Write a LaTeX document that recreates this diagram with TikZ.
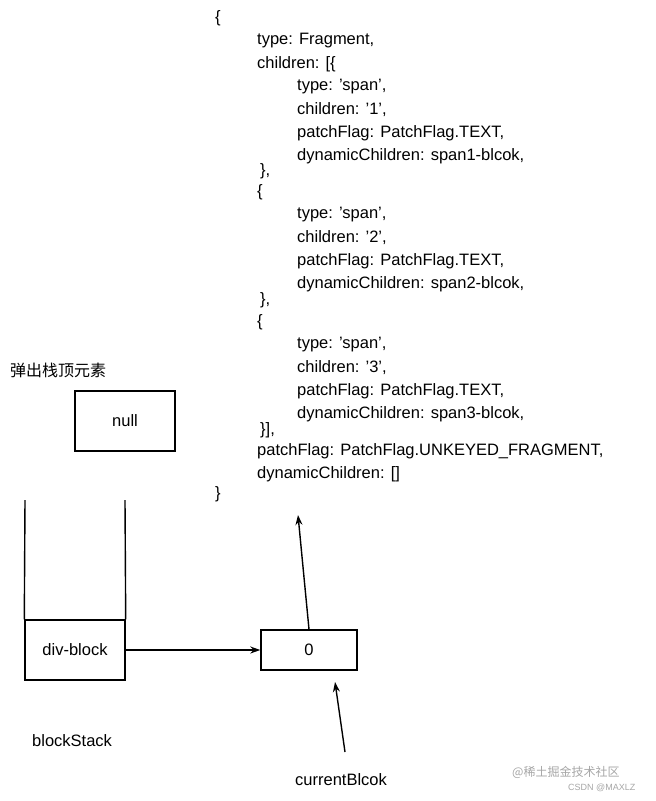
\documentclass[tikz,border=0pt]{standalone}
\usepackage{fontspec}
\setmainfont{Liberation Sans}
\newfontfamily\cjk{Noto Sans CJK SC}
\usetikzlibrary{arrows.meta}
\newcommand{\sq}{\char"0027\relax}
\begin{document}
\begin{tikzpicture}[x=1pt,y=-1pt,
  t/.style={anchor=west,inner sep=0pt,font=\fontsize{16.5}{19}\selectfont},
  box/.style={draw,line width=1.4pt,minimum height=#1,inner sep=0pt,font=\fontsize{16.5}{19}\selectfont},
  ln/.style={line width=1.4pt},
  ar/.style={line width=1.4pt,-{Stealth[length=10pt,width=7pt]}}]
\useasboundingbox (0,0) rectangle (656,801);
\node[t] (a0) at (215,18) {\{};
\node[t] (a1) at (257,41) {type: Fragment,};
\node[t] (a2) at (257,64) {children: [\{};
\foreach \n/\y/\k in {1/87/b,2/215/c,3/345/d}{
  \node[t] (\k1) at (297,\y) {type: \sq span\sq,};
  \node[t] (\k2) at (297,\y+23) {children: \sq\n\sq,};
  \node[t] (\k3) at (297,\y+46) {patchFlag: PatchFlag.TEXT,};
  \node[t] (\k4) at (297,\y+69) {dynamicChildren: span\n-blcok,};
}
\node[t] (e1) at (260,171) {\},};
\node[t] (e2) at (257,192) {\{};
\node[t] (e3) at (260,300) {\},};
\node[t] (e4) at (257,322) {\{};
\node[t] (e5) at (260,430) {\}],};
\node[t] (e6) at (257,451) {patchFlag: PatchFlag.UNKEYED\_FRAGMENT,};
\node[t] (e7) at (257,474) {dynamicChildren: []};
\node[t] (e8) at (215,494) {\}};
\node[t,font=\cjk\fontsize{16}{18}\selectfont] (tt) at (10,370) {弹出栈顶元素};
\node[box=60pt,minimum width=100pt] (null) at (125,421) {null};
\node[box=60pt,minimum width=100pt] (div) at (75,650) {div-block};
\draw[ln] (25,500) -- (div.north west);
\draw[ln] (125,500) -- (div.north east);
\node[t] (bs) at (32,741) {blockStack};
\node[box=40pt,minimum width=96pt] (zero) at (309,650) {0};
\node[t] (cb) at (295,780) {currentBlcok};
\coordinate (top) at (298,515);
\coordinate (cbt) at (345,752);
\draw[ar] (div.east) -- (zero.west);
\draw[ar] (zero.north) -- (top);
\draw[ar] (cbt) -- (335,682);
\node[t,font=\cjk\fontsize{12}{14}\selectfont,text=gray!70] (w1) at (512,772) {@稀土掘金技术社区};
\node[t,font=\fontsize{9}{11}\selectfont,text=gray!70] (w2) at (568,788) {CSDN @MAXLZ};
\end{tikzpicture}
\end{document}
